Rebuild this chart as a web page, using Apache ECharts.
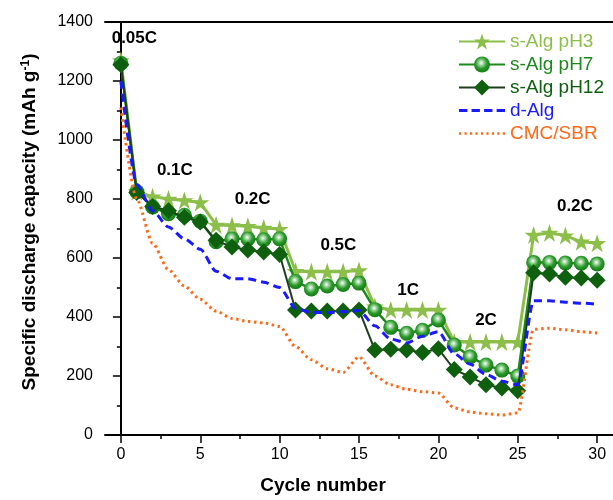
<!DOCTYPE html>
<html>
<head>
<meta charset="utf-8">
<script src="https://cdn.jsdelivr.net/npm/echarts@6/dist/echarts.min.js"></script>
<style>html,body{margin:0;padding:0;background:#fff}#c{width:613px;height:500px}</style>
</head>
<body>
<div id="c"></div>
<script>
const cycles = [0,1,2,3,4,5,6,7,8,9,10,11,12,13,14,15,16,17,18,19,20,21,22,23,24,25,26,27,28,29,30];
const sAlgPH3  = [1270,825,808,800,795,788,712,710,708,702,698,555,553,553,553,558,435,424,424,424,424,315,315,315,315,315,678,685,676,655,650];
const sAlgPH7  = [1260,825,773,750,745,725,655,665,665,662,665,520,495,505,510,515,425,365,345,355,390,305,265,237,220,200,585,585,583,582,580];
const sAlgPH12 = [1255,822,775,760,738,722,660,637,627,620,612,424,420,420,420,424,288,291,288,280,292,222,197,170,159,150,550,546,535,532,525];
const dAlg     = [1200,850,760,705,665,630,555,530,530,518,500,430,415,415,418,422,370,325,312,335,350,275,240,205,182,170,455,455,450,447,443];
const cmcSbr   = [1110,800,650,560,505,460,420,395,385,380,368,300,255,225,212,265,200,170,155,147,142,92,78,72,68,75,358,362,357,350,346];
const seriesNames = ['s-Alg pH3','s-Alg pH7','s-Alg pH12','d-Alg','CMC/SBR'];
const yTicks = [0,200,400,600,800,1000,1200,1400];
const xMajorTicks = [0,5,10,15,20,25,30];
const xMinorTicks = [2.5,7.5,12.5,17.5,22.5,27.5];
const rateLabels = ['0.05C','0.1C','0.2C','0.5C','1C','2C','0.2C'];

const pair = arr => cycles.map((c,i)=>[c,arr[i]]);
const STAR = 'path://M50,0 L62,36 L100,36 L69,58 L81,95 L50,72 L19,95 L31,58 L0,36 L38,36 Z';
const DASH_ICON = 'path://M0,0h8v3h-8z M12,0h8v3h-8z M24,0h8v3h-8z M36,0h8v3h-8z';
const DOT_ICON = 'path://M0,0h2.2v2.6h-2.2z M5.4,0h2.2v2.6h-2.2z M10.8,0h2.2v2.6h-2.2z M16.2,0h2.2v2.6h-2.2z M21.6,0h2.2v2.6h-2.2z M27,0h2.2v2.6h-2.2z M32.4,0h2.2v2.6h-2.2z M37.8,0h2.2v2.6h-2.2z M43.2,0h2.2v2.6h-2.2z';
const FONT = 'Liberation Sans, Arial, sans-serif';

const chart = echarts.init(document.getElementById('c'));
const colPH3 = '#8cbf4a', colPH7 = '#1b8a1b', colPH12 = '#0e600e', colBlue = '#1a1aff', colOrange = '#ff6a1a';

chart.setOption({
  animation: false,
  textStyle: {fontFamily: FONT},
  grid: {left: 105, top: 22, width: 515, height: 413, containLabel: false},
  legend: {
    orient: 'vertical', left: 453, top: 27, itemWidth: 46, itemHeight: 20, itemGap: 4,
    textStyle: {fontSize: 19, fontFamily: FONT},
    data: [
      {name: seriesNames[0], textStyle: {color: colPH3}},
      {name: seriesNames[1], textStyle: {color: colPH7}},
      {name: seriesNames[2], textStyle: {color: colPH12}},
      {name: seriesNames[3], icon: DASH_ICON, itemStyle: {color: colBlue}, textStyle: {color: colBlue}},
      {name: seriesNames[4], icon: DOT_ICON, itemStyle: {color: colOrange}, textStyle: {color: colOrange}}
    ]
  },
  xAxis: [
    {type: 'value', min: -1, max: 31, position: 'bottom',
     axisLine: {show: true, onZero: false, lineStyle: {color: '#000', width: 2}},
     axisTick: {show: true, inside: false, length: 8, lineStyle: {color: '#000', width: 1.5}, customValues: xMajorTicks},
     axisLabel: {show: true, color: '#000', fontSize: 16, margin: 12, customValues: xMajorTicks},
     splitLine: {show: false}},
    {type: 'value', min: -1, max: 31, position: 'bottom',
     axisLine: {show: false, onZero: false},
     axisTick: {show: true, inside: false, length: 4, lineStyle: {color: '#000', width: 1.5}, customValues: xMinorTicks},
     axisLabel: {show: false},
     splitLine: {show: false}},
    {type: 'value', min: -1, max: 31, position: 'top',
     axisLine: {show: true, onZero: false, lineStyle: {color: '#000', width: 2}},
     axisTick: {show: false}, axisLabel: {show: false}, splitLine: {show: false}}
  ],
  yAxis: {
    type: 'value', min: 0, max: 1400, interval: 200,
    axisLine: {show: true, lineStyle: {color: '#000', width: 2}},
    axisTick: {show: true, inside: false, length: 8, lineStyle: {color: '#000', width: 1.5}},
    minorTick: {show: true, splitNumber: 2, length: 4, lineStyle: {color: '#000', width: 1.5}},
    axisLabel: {color: '#000', fontSize: 16, margin: 12, formatter: v => String(v)},
    splitLine: {show: false}
  },
  series: [
    {name: seriesNames[0], type: 'line', data: pair(sAlgPH3), z: 3,
     symbol: STAR, symbolSize: 18, showAllSymbol: true,
     lineStyle: {color: colPH3, width: 3}, itemStyle: {color: colPH3, borderWidth: 0}},
    {name: seriesNames[1], type: 'line', data: pair(sAlgPH7), z: 4,
     symbol: 'circle', symbolSize: 15, showAllSymbol: true,
     lineStyle: {color: colPH7, width: 2.5},
     itemStyle: {color: {type: 'radial', x: 0.45, y: 0.4, r: 0.6,
       colorStops: [{offset: 0, color: '#ffffff'}, {offset: 0.25, color: '#9fd59f'}, {offset: 0.6, color: '#2a9a2a'}, {offset: 1, color: '#137a13'}]},
       borderWidth: 0}},
    {name: seriesNames[2], type: 'line', data: pair(sAlgPH12), z: 5,
     symbol: 'diamond', symbolSize: [17, 17], showAllSymbol: true,
     lineStyle: {color: '#1f3d1f', width: 2}, itemStyle: {color: colPH12, borderWidth: 0}},
    {name: seriesNames[3], type: 'line', data: pair(dAlg), z: 6,
     symbol: 'none', smooth: 0.25, smoothMonotone: 'x',
     lineStyle: {color: colBlue, width: 3, type: [8, 5]}, itemStyle: {color: colBlue}},
    {name: seriesNames[4], type: 'line', data: pair(cmcSbr), z: 6,
     symbol: 'none', smooth: 0.25, smoothMonotone: 'x',
     lineStyle: {color: colOrange, width: 3, type: [2.5, 3.5]}, itemStyle: {color: colOrange}}
  ]
});

// rate annotations placed in data coordinates
const rateCoords = [[0.85,1345],[3.4,898],[8.3,800],[13.7,644],[18.1,492],[23,390],[28.6,776]];
const g = rateLabels.map((t,i)=>{
  const p = chart.convertToPixel({xAxisIndex:0,yAxisIndex:0}, rateCoords[i]);
  return {type:'text', x:p[0], y:p[1], z:100,
    style:{text:t, fill:'#000', font:'bold 17px '+FONT, textAlign:'center', textVerticalAlign:'middle'}};
});
g.push({type:'text', x:323, y:486, z:100,
  style:{text:'Cycle number', fill:'#000', font:'bold 19px '+FONT, textAlign:'center', textVerticalAlign:'middle'}});
g.push({type:'text', x:30, y:222, rotation:Math.PI/2, z:100,
  style:{text:'Specific discharge capacity (mAh g{sup|-1})', fill:'#000', font:'bold 19px '+FONT,
    align:'center', verticalAlign:'middle',
    rich:{sup:{font:'bold 12px '+FONT, fill:'#000', verticalAlign:'top', padding:[0,0,8,0]}}}});
chart.setOption({graphic: g});
</script>
</body>
</html>
